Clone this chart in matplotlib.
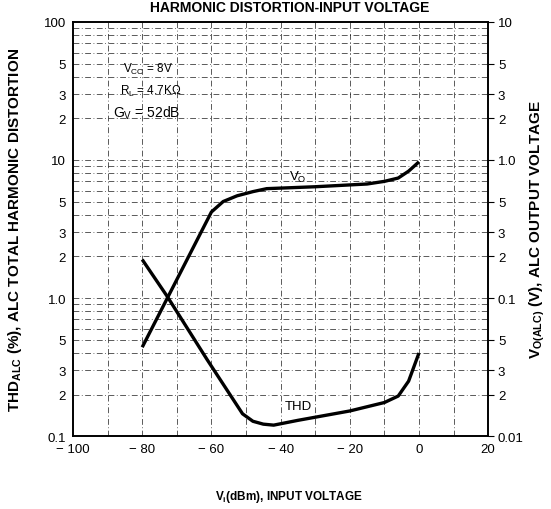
import matplotlib.pyplot as plt
import numpy as np

plt.rcParams['font.family'] = ['Liberation Sans', 'DejaVu Sans']

# input level (dBm)
vin_thd = [-80, -72.8, -61.3, -51, -48, -45, -42, -35, -20, -10, -6, -3, 0]
# THD (%)
thd = [1.9, 1.03, 0.36, 0.145, 0.128, 0.122, 0.12, 0.13, 0.152, 0.175, 0.195, 0.25, 0.4]

vin_vo = [-80, -60, -56.6, -52.6, -48, -44, -30, -15, -10, -6, -3, 0]
# output voltage (V)
vo = [0.044, 0.42, 0.50, 0.55, 0.59, 0.62, 0.64, 0.67, 0.70, 0.74, 0.83, 0.97]

x_ticks = [-100, -80, -60, -40, -20, 0, 20]
x_labels = ["\u2212 100", "\u2212 80", "\u2212 60", "\u2212 40", "\u2212 20", "0", "20"]
left_ticks = [0.1, 0.2, 0.3, 0.5, 1, 2, 3, 5, 10, 20, 30, 50, 100]
left_labels = ["0.1", "2", "3", "5", "1.0", "2", "3", "5", "10", "2", "3", "5", "100"]
right_ticks = [0.01, 0.02, 0.03, 0.05, 0.1, 0.2, 0.3, 0.5, 1, 2, 3, 5, 10]
right_labels = ["0.01", "2", "3", "5", "0.1", "2", "3", "5", "1.0", "2", "3", "5", "10"]

fig = plt.figure(figsize=(5.51, 5.10), dpi=100)
ax = fig.add_axes([0.1325, 0.143, 0.7535, 0.812])
ax.set_xlim(-100, 20)
ax.set_yscale("log")
ax.set_ylim(0.1, 100)

ax2 = ax.twinx()
ax2.set_yscale("log")
ax2.set_ylim(0.01, 10)

# grid: every minor decade step, every 10 dB
grid_style = dict(color="black", lw=0.6, ls=(0, (7, 3, 1, 3)), alpha=0.75, zorder=1)
for dec in [0.1, 1, 10]:
    for m in range(2, 10):
        ax.axhline(dec * m, **grid_style)
for dec in [1, 10]:
    ax.axhline(dec, **grid_style)
for xv in range(-90, 20, 10):
    ax.axvline(xv, **grid_style)

ax.plot(vin_thd, thd, color="black", lw=2.4, solid_capstyle="butt", zorder=3)
ax2.plot(vin_vo, vo, color="black", lw=2.4, solid_capstyle="butt", zorder=3)

ax.set_xticks(x_ticks)
ax.set_xticklabels(x_labels, fontsize=9.5)
ax.set_yticks(left_ticks)
ax.set_yticklabels(left_labels, fontsize=9.5)
ax.yaxis.set_minor_locator(plt.NullLocator())
ax2.set_yticks(right_ticks)
ax2.set_yticklabels(right_labels, fontsize=9.5)
ax2.yaxis.set_minor_locator(plt.NullLocator())
ax.tick_params(axis="both", length=0, pad=5)
ax2.tick_params(axis="y", length=4, direction="out", pad=3)

for sp in ax.spines.values():
    sp.set_linewidth(1.2)
for sp in ax2.spines.values():
    sp.set_linewidth(1.2)

ax.text(-35, 7.65, "V$_\\mathregular{O}$", fontsize=9.5, ha="center", va="center", zorder=4)
ax.text(-35, 0.165, "THD", fontsize=9.5, ha="center", va="center", zorder=4)

ax.text(-85.5, 46, "V$_\\mathregular{CC}$ = 8V", fontsize=8.5, ha="left", va="center", zorder=4)
ax.text(-86.5, 32, "R$_\\mathregular{L}$ = 4.7K\u03a9", fontsize=8.5, ha="left", va="center", zorder=4)
ax.text(-88.5, 22.3, "G$_\\mathregular{V}$ = 52dB", fontsize=10, ha="left", va="center", zorder=4)

fig.text(0.525, 0.999, "HARMONIC DISTORTION-INPUT VOLTAGE", fontsize=10,
         fontweight="bold", ha="center", va="top")
fig.text(0.028, 0.55, "THD$_\\mathregular{ALC}$ (%), ALC TOTAL HARMONIC DISTORTION",
         fontsize=11, fontweight="bold", rotation=90, ha="center", va="center")
fig.text(0.975, 0.55, "V$_\\mathregular{O(ALC)}$ (V), ALC OUTPUT VOLTAGE",
         fontsize=11, fontweight="bold", rotation=90, ha="center", va="center")
fig.text(0.525, 0.025, "V$_\\mathregular{i}$(dBm), INPUT VOLTAGE", fontsize=8.5,
         fontweight="bold", ha="center", va="center")

fig.savefig("out.png", dpi=100)
